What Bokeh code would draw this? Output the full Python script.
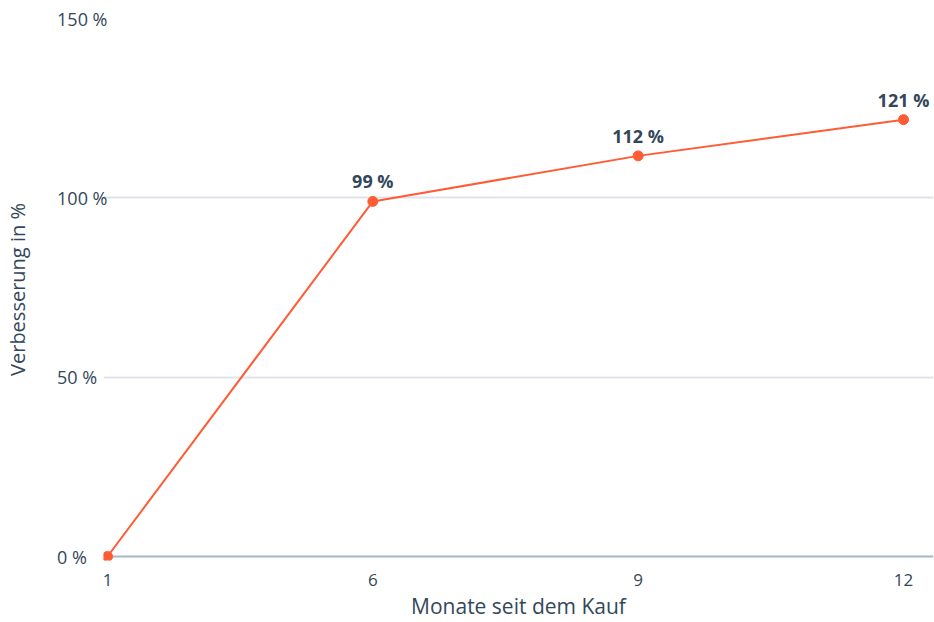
from bokeh.plotting import figure
from bokeh.models import ColumnDataSource, Range1d, FixedTicker, Span
from bokeh.embed import file_html
from bokeh.resources import INLINE
from bokeh.core.properties import value

months = ["1", "6", "9", "12"]
improvement = [0, 99, 111.7, 121.8]
point_labels = ["", "99 %", "112 %", "121 %"]
y_ticks = [0, 50, 100, 150]
y_tick_labels = ["0 %", "50 %", "100 %", "150 %"]
y_grid = [50, 100, 150]

FONT = "Open Sans"
TEXT = "#33475b"
ORANGE = "#ff5c35"

idx = list(range(len(months)))
src = ColumnDataSource(dict(x=idx, y=improvement, lab=point_labels))

p = figure(width=934, height=622, output_backend="svg", toolbar_location=None,
           x_range=Range1d(-0.0151, 3.1131), y_range=Range1d(-1.114, 150),
           min_border_left=103, min_border_right=1, min_border_top=18, min_border_bottom=62)
p.outline_line_color = None
p.background_fill_color = "white"

baseline = Span(location=0, dimension="width", line_color="#a5b6c8", line_width=2,
                level="underlay")
p.add_layout(baseline)

p.line("x", "y", source=src, line_color=ORANGE, line_width=2)
p.scatter("x", "y", source=src, size=10, fill_color=ORANGE, line_color=ORANGE)
p.text("x", "y", text="lab", source=src, text_font=value(FONT), text_font_style="bold",
       text_font_size="18px", text_color=TEXT, text_align="center",
       text_baseline="alphabetic", y_offset=-20)

p.xaxis.ticker = FixedTicker(ticks=idx)
p.xaxis.major_label_overrides = {i: m for i, m in enumerate(months)}
p.xaxis.axis_line_color = None
p.xaxis.major_tick_line_color = None
p.xaxis.minor_tick_line_color = None
p.xaxis.major_label_standoff = 7
p.xaxis.axis_label = "Monate seit dem Kauf"
p.xaxis.axis_label_standoff = 3
p.xaxis.major_label_text_font_size = "17px"
p.xaxis.axis_label_text_font_size = "21px"

# left-aligned look: pad shorter labels with figure spaces (digit width)
longest = max(len(s) for s in y_tick_labels)
p.yaxis.ticker = FixedTicker(ticks=y_ticks)
p.yaxis.major_label_overrides = {t: s + "\u2007" * (longest - len(s))
                                 for t, s in zip(y_ticks, y_tick_labels)}
p.yaxis.axis_line_color = None
p.yaxis.major_tick_line_color = None
p.yaxis.minor_tick_line_color = None
p.yaxis.major_label_standoff = -10
p.yaxis.major_label_text_font_size = "18px"
p.yaxis.axis_label = "Verbesserung in %"
p.yaxis.axis_label_standoff = 23
p.yaxis.axis_label_text_font_size = "20px"

for ax in (p.xaxis, p.yaxis):
    ax.major_label_text_font = FONT
    ax.major_label_text_color = TEXT
    ax.axis_label_text_font = FONT
    ax.axis_label_text_font_style = "normal"
    ax.axis_label_text_color = TEXT

p.xgrid.grid_line_color = None
p.ygrid.ticker = FixedTicker(ticks=y_grid)
p.ygrid.grid_line_color = "#dfe3eb"
p.ygrid.grid_line_width = 2

open("out.html", "w").write(file_html(p, INLINE))
